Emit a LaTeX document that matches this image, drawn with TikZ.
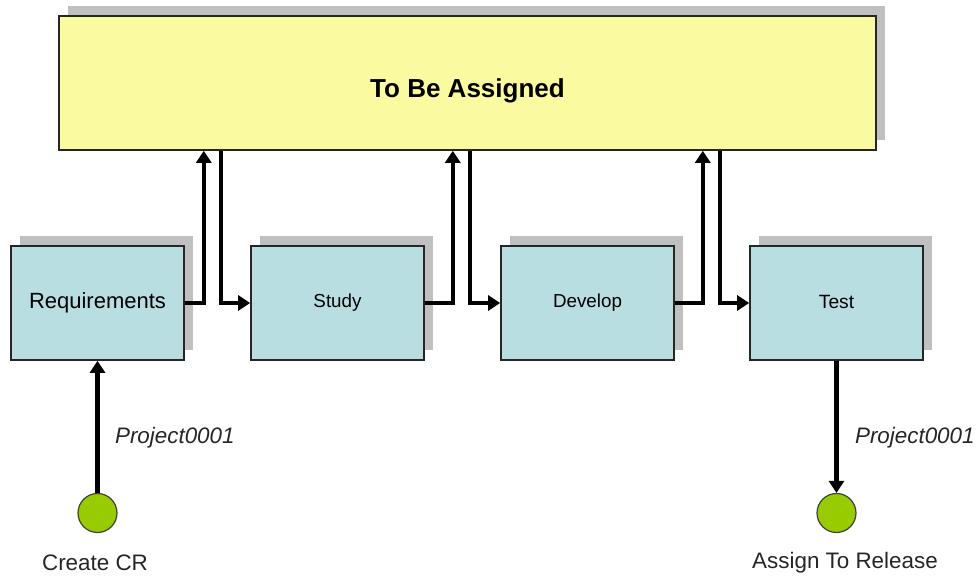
\documentclass[tikz,border=0pt]{standalone}
\usepackage{fontspec}
\setmainfont{Liberation Sans}
\usepackage{xcolor}
\usepackage{tikz}
\usetikzlibrary{arrows.meta,shadows}

\definecolor{poolyellow}{RGB}{250,250,160}
\definecolor{stageblue}{RGB}{184,222,226}
\definecolor{shadowgray}{RGB}{192,192,192}
\definecolor{endgreen}{RGB}{153,204,0}

\tikzset{
  pool/.style={draw=black!85, line width=0.8pt, fill=poolyellow,
    minimum width=408.5pt, minimum height=67pt, inner sep=0pt,
    text height=17pt, text depth=2.6pt,
    general shadow={fill=shadowgray, shadow xshift=4.5pt, shadow yshift=5pt},
    font=\fontsize{13}{15}\selectfont\bfseries},
  stage/.style={draw=black!85, line width=0.8pt, fill=stageblue,
    minimum width=86.5pt, minimum height=57pt, inner sep=0pt,
    general shadow={fill=shadowgray, shadow xshift=4.5pt, shadow yshift=5pt}},
  flow/.style={-{Triangle[length=6pt,width=7.5pt]}, line width=2.2pt},
  endpoint/.style={circle, draw=black!75, line width=0.6pt, fill=endgreen,
    minimum size=19.5pt, inner sep=0pt},
  caption/.style={font=\fontsize{11.2}{13}\selectfont, text=black!85},
  tag/.style={font=\fontsize{11.2}{13}\selectfont\itshape, text=black!85, anchor=west}
}

\begin{document}
\begin{tikzpicture}[x=0.5pt,y=-0.5pt]
  \useasboundingbox (0,0) rectangle (980,576);

  % Common pool
  \node[pool] (pool) at (467.5,83) {To Be Assigned};

  % Stages
  \node[stage, font=\fontsize{11}{13}\selectfont] (req) at (97.5,303) {Requirements};
  \node[stage, font=\fontsize{9.4}{11}\selectfont] (study) at (337.5,303) {Study};
  \node[stage, font=\fontsize{9.4}{11}\selectfont] (develop) at (587.5,303) {Develop};
  \node[stage, font=\fontsize{9.6}{11}\selectfont, text depth=1.5pt] (test) at (836.5,303) {Test};

  % Stage -> pool -> next stage
  \draw[flow] (req.east) -| ([xshift=9.5pt]req.east |- pool.south);
  \draw[flow] ([xshift=-14.5pt]study.west |- pool.south) |- (study.west);
  \draw[flow] (study.east) -| ([xshift=14pt]study.east |- pool.south);
  \draw[flow] ([xshift=-15pt]develop.west |- pool.south) |- (develop.west);
  \draw[flow] (develop.east) -| ([xshift=14pt]develop.east |- pool.south);
  \draw[flow] ([xshift=-14.5pt]test.west |- pool.south) |- (test.west);

  % Start and end
  \node[endpoint] (create) at (97.5,513) {};
  \node[caption] (createlbl) at (95,563) {Create CR};
  \draw[flow] (create.north) -- (create.north |- req.south);
  \node[tag] (tagin) at (108,438) {Project0001};

  \node[endpoint] (release) at (836.5,513) {};
  \node[caption] (releaselbl) at (845,563) {Assign To Release};
  \draw[flow] (test.south) -- (test.south |- release.north);
  \node[tag] (tagout) at (848,438) {Project0001};
\end{tikzpicture}
\end{document}
